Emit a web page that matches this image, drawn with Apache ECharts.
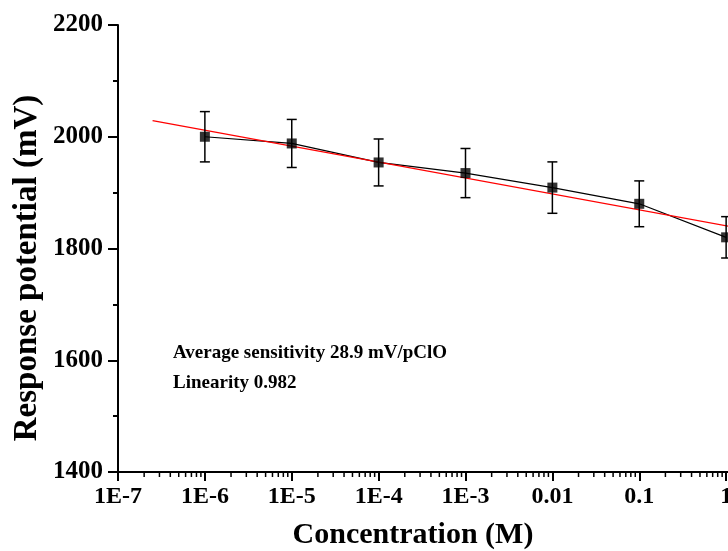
<!DOCTYPE html>
<html>
<head>
<meta charset="utf-8">
<script src="https://cdn.jsdelivr.net/npm/echarts@6/dist/echarts.min.js"></script>
<style>html,body{margin:0;padding:0;background:#fff;}#c{width:728px;height:551px;}</style>
</head>
<body>
<div id="c"></div>
<script>
// ---- data ----
var concentrations = [1e-6, 1e-5, 1e-4, 1e-3, 0.01, 0.1, 1];
var responses = [2000, 1988, 1954, 1935, 1909, 1880, 1820];
var errors = [45, 43, 42, 44, 46, 41, 37];
var fitConc = [2.5e-7, 2];
var fitResp = [2029, 1832];
var xTickLabels = ['1E-7', '1E-6', '1E-5', '1E-4', '1E-3', '0.01', '0.1', '1', '10'];
var xMinorMultipliers = [2, 3, 4, 5, 6, 7, 8, 9];
var xDecades = [-7, -6, -5, -4, -3, -2, -1, 0];
var annotation = ['Average sensitivity 28.9 mV/pClO', 'Linearity 0.982'];
var xTitle = 'Concentration (M)';
var yTitle = 'Response potential (mV)';

var FONT = "'Liberation Serif', 'Times New Roman', serif";
var chart = echarts.init(document.getElementById('c'), null, {renderer: 'canvas'});

var lineData = concentrations.map(function (c, i) { return [c, responses[i]]; });
var errData = concentrations.map(function (c, i) { return [c, responses[i] - errors[i], responses[i] + errors[i]]; });
var fitData = fitConc.map(function (c, i) { return [c, fitResp[i]]; });
var minorData = [];
xDecades.forEach(function (d) {
  xMinorMultipliers.forEach(function (m) { minorData.push([m * Math.pow(10, d), 1400]); });
});

chart.setOption({
  animation: false,
  backgroundColor: '#fff',
  grid: {left: 118, top: 25, width: 695, height: 447, containLabel: false, outerBoundsMode: 'none'},
  xAxis: {
    type: 'log', logBase: 10, min: 1e-7, max: 10,
    axisLine: {show: true, lineStyle: {color: '#000', width: 2}},
    axisTick: {show: true, length: 9, lineStyle: {color: '#000', width: 2}},
    splitLine: {show: false},
    axisLabel: {
      color: '#000', fontFamily: FONT, fontWeight: 'bold', fontSize: 24, margin: 13,
      hideOverlap: false,
      formatter: function (v) {
        var k = Math.round(Math.log(v) / Math.LN10) + 7;
        return xTickLabels[k] !== undefined ? xTickLabels[k] : '';
      }
    }
  },
  yAxis: {
    type: 'value', min: 1400, max: 2200, interval: 200,
    axisLine: {show: true, lineStyle: {color: '#000', width: 2}},
    axisTick: {show: true, length: 10, lineStyle: {color: '#000', width: 2}},
    minorTick: {show: true, splitNumber: 2, length: 5, lineStyle: {color: '#000', width: 2}},
    splitLine: {show: false},
    axisLabel: {color: '#000', fontFamily: FONT, fontWeight: 'bold', fontSize: 25, margin: 15,
      formatter: function (v) { return String(v); }}
  },
  series: [
    {
      type: 'custom', name: 'minorTicks', data: minorData, silent: true, z: 1,
      renderItem: function (params, api) {
        var p = api.coord([api.value(0), api.value(1)]);
        return {type: 'line', shape: {x1: p[0], y1: p[1], x2: p[0], y2: p[1] + 5},
                style: {stroke: '#000', lineWidth: 1.5}};
      }
    },
    {
      type: 'line', data: lineData, symbol: 'none', z: 2,
      lineStyle: {color: '#000', width: 1.2}
    },
    {
      type: 'line', data: fitData, symbol: 'none', z: 3,
      lineStyle: {color: '#ff0000', width: 1.2}
    },
    {
      type: 'custom', data: errData, z: 4,
      renderItem: function (params, api) {
        var lo = api.coord([api.value(0), api.value(1)]);
        var hi = api.coord([api.value(0), api.value(2)]);
        var w = 5;
        var st = {stroke: '#000', lineWidth: 1.5};
        return {type: 'group', children: [
          {type: 'line', shape: {x1: lo[0], y1: lo[1], x2: hi[0], y2: hi[1]}, style: st},
          {type: 'line', shape: {x1: hi[0] - w, y1: hi[1], x2: hi[0] + w, y2: hi[1]}, style: st},
          {type: 'line', shape: {x1: lo[0] - w, y1: lo[1], x2: lo[0] + w, y2: lo[1]}, style: st}
        ]};
      }
    },
    {
      type: 'scatter', data: lineData, symbol: 'rect', symbolSize: 10, z: 5,
      itemStyle: {color: '#000'}
    }
  ],
  graphic: [
    {type: 'text', left: 173, top: 344, style: {text: annotation[0], font: 'bold 19px ' + FONT, fill: '#000'}},
    {type: 'text', left: 173, top: 374, style: {text: annotation[1], font: 'bold 19px ' + FONT, fill: '#000'}},
    {type: 'text', x: 413, y: 535, style: {text: xTitle, font: 'bold 30px ' + FONT, fill: '#000', align: 'center', verticalAlign: 'middle'}},
    {type: 'text', x: 27, y: 268, rotation: Math.PI / 2, style: {text: yTitle, font: 'bold 33px ' + FONT, fill: '#000', align: 'center', verticalAlign: 'middle'}}
  ]
});
</script>
</body>
</html>
